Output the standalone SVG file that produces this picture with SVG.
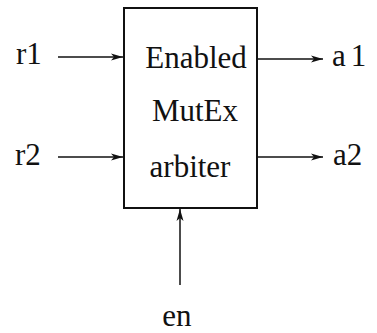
<svg xmlns="http://www.w3.org/2000/svg" width="377" height="333" viewBox="0 0 377 333">
  <style>
    .lbl { font-family: "Liberation Serif", "Times New Roman", serif; font-size: 31px; fill: #111; }
    .box { fill: #fff; stroke: #111; stroke-width: 2; }
    .wire { stroke: #111; stroke-width: 1.5; fill: none; marker-end: url(#head); }
  </style>
  <defs>
    <marker id="head" viewBox="0 0 12 8" refX="12" refY="4" markerWidth="12" markerHeight="8" markerUnits="userSpaceOnUse" orient="auto">
      <path d="M0,0.5 L12,4 L0,7.5 L3,4 z" fill="#111"/>
    </marker>
  </defs>
  <rect width="377" height="333" fill="#fff"/>

  <g id="arbiter">
    <rect class="box" x="124" y="8" width="133" height="200"/>
    <text class="lbl" x="196" y="68" text-anchor="middle">Enabled</text>
    <text class="lbl" x="195" y="121" text-anchor="middle">MutEx</text>
    <text class="lbl" x="190" y="177" text-anchor="middle">arbiter</text>
  </g>

  <g id="r1"><text class="lbl" x="16" y="64">r1</text></g>
  <g id="r2"><text class="lbl" x="15" y="165">r2</text></g>
  <g id="a1"><text class="lbl" x="332" y="66" letter-spacing="5">a1</text></g>
  <g id="a2"><text class="lbl" x="333" y="165">a2</text></g>
  <g id="en"><text class="lbl" x="177" y="326" text-anchor="middle">en</text></g>

  <g id="connectors">
    <line class="wire" x1="58" y1="57" x2="123" y2="57"/>
    <line class="wire" x1="58" y1="157" x2="123" y2="157"/>
    <line class="wire" x1="258" y1="59" x2="323" y2="59"/>
    <line class="wire" x1="258" y1="157" x2="323" y2="157"/>
    <line class="wire" x1="180" y1="285" x2="180" y2="209"/>
  </g>
</svg>
